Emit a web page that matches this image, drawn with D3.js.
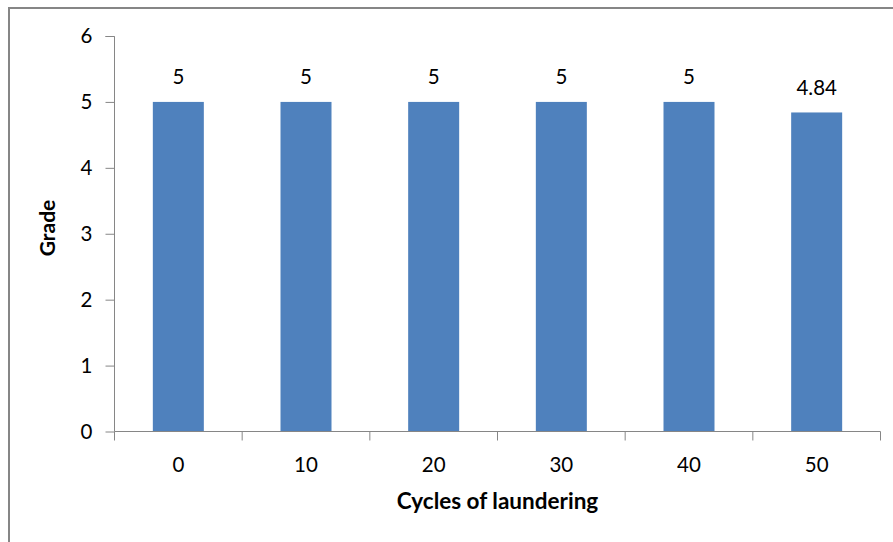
<!DOCTYPE html>
<html><head><meta charset="utf-8">
<script src="https://cdn.jsdelivr.net/npm/d3@7"></script>
<style>body{margin:0;background:#fff}svg{display:block}</style>
</head><body>
<script>
const categories = ["0","10","20","30","40","50"];
const grades = [5,5,5,5,5,4.84];
const labels = ["5","5","5","5","5","4.84"];
const yTicks = [0,1,2,3,4,5,6];

(function () {
const W = 893, H = 542;
const font = "Lato, 'Open Sans', sans-serif";
const fs = 20.5;
const svg = d3.select("body").append("svg").attr("width", W).attr("height", H);

svg.append("rect").attr("x", 9).attr("y", 8).attr("width", W - 9 + 5).attr("height", H)
  .attr("fill", "#fff").attr("stroke", "#868686").attr("stroke-width", 2);

const pl = 114.5, pr = 880.5, pt = 36, pb = 431.5;
const xb = d3.scaleBand().domain(categories).range([pl, pr]);
const y = d3.scaleLinear().domain([0, 6]).range([pb, pt]);

// bars
svg.selectAll("rect.bar").data(grades).join("rect").attr("class", "bar")
  .attr("x", (d, i) => xb(categories[i]) + xb.bandwidth() / 2 - 25.5)
  .attr("width", 51)
  .attr("y", d => y(d)).attr("height", d => pb - y(d))
  .attr("fill", "#4F81BD");

// y axis
const ya = svg.append("g").attr("transform", `translate(${pl},0)`)
  .call(d3.axisLeft(y).tickValues(yTicks).tickSize(9).tickPadding(13).tickFormat(d3.format("d")));
ya.select(".domain").attr("stroke", "#868686").attr("d", `M-9,${pt + 0.5}H0V${pb}`);
ya.selectAll(".tick line").attr("stroke", "#868686");
ya.selectAll("text").attr("font-family", font).attr("font-size", fs).attr("fill", "#000");

// x axis
const boundaries = d3.range(categories.length + 1).map(i => pl + i * xb.bandwidth());
const xg = svg.append("g");
xg.append("line").attr("x1", pl).attr("x2", pr).attr("y1", pb).attr("y2", pb).attr("stroke", "#868686");
xg.selectAll("line.t").data(boundaries).join("line").attr("class", "t")
  .attr("x1", d => d).attr("x2", d => d).attr("y1", pb).attr("y2", pb + 9).attr("stroke", "#868686");
xg.selectAll("text").data(categories).join("text")
  .attr("x", d => xb(d) + xb.bandwidth() / 2).attr("y", 465).attr("dy", "0.35em")
  .attr("text-anchor", "middle").attr("font-family", font).attr("font-size", fs).text(d => d);

// data labels
svg.selectAll("text.lbl").data(grades).join("text").attr("class", "lbl")
  .attr("x", (d, i) => xb(categories[i]) + xb.bandwidth() / 2)
  .attr("y", d => y(d) - 25).attr("dy", "0.35em")
  .attr("text-anchor", "middle").attr("font-family", font).attr("font-size", fs)
  .text((d, i) => labels[i]);

// axis titles
svg.append("text").attr("x", 497.5).attr("y", 501).attr("dy", "0.35em").attr("text-anchor", "middle")
  .attr("font-family", font).attr("font-size", 22.5).attr("font-weight", "bold").text("Cycles of laundering");
svg.append("text").attr("transform", "translate(48,228) rotate(-90)").attr("dy", "0.35em")
  .attr("text-anchor", "middle").attr("font-family", font).attr("font-size", 21).attr("font-weight", "bold").text("Grade");
})();
</script>
</body></html>
